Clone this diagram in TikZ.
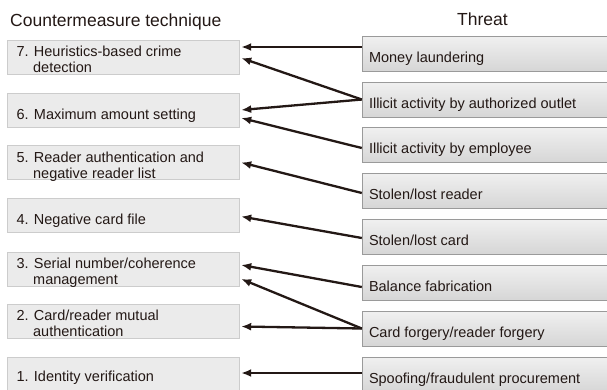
\documentclass[tikz,border=0pt]{standalone}
\usepackage{fontspec}
\setmainfont{Liberation Sans}
\usetikzlibrary{arrows.meta}
\definecolor{inkline}{HTML}{231815}
\definecolor{cmfill}{HTML}{EBEBEB}
\definecolor{cmedge}{HTML}{CCCCCC}
\definecolor{thtop}{HTML}{F0F0F0}
\definecolor{thbot}{HTML}{D6D6D6}
\definecolor{thedge}{HTML}{9A9A9A}

\begin{document}
\begin{tikzpicture}[x=1pt,y=-1pt,>={Latex[length=10pt,width=8pt]}]
\tikzset{cmbox/.style={draw=cmedge,fill=cmfill,minimum width=232pt,minimum height=34pt,inner sep=0pt},
thbox/.style={draw=thedge,top color=thtop,bottom color=thbot,minimum width=250pt,minimum height=35pt,inner sep=0pt},
boxtext/.style={anchor=base west,inner sep=0pt,align=left,text=inkline,font=\fontsize{14.5}{16}\selectfont},
headtext/.style={inner sep=0pt,text=inkline,font=\fontsize{17.5}{20}\selectfont},
link/.style={->,line width=2.3pt,color=inkline}}
\useasboundingbox (0,0) rectangle (607,389);
\node[headtext,anchor=base west] (cmhead) at (10,26) {Countermeasure technique};
\node[headtext,anchor=base] (thhead) at (482.5,25) {Threat};
\foreach \n/\y/\ty/\txt in {7/57/-15/{7. Heuristics-based crime\\\hspace*{1.15em}detection},
6/110/-9/{6. Maximum amount setting},
5/162.5/-15.5/{5. Reader authentication and\\\hspace*{1.15em}negative reader list},
4/215/-9/{4. Negative card file},
3/269/-15/{3. Serial number/coherence\\\hspace*{1.15em}management},
2/321/-15/{2. Card/reader mutual\\\hspace*{1.15em}authentication},
1/374/-7/{1. Identity verification}}
{
\node[cmbox] (cm\n) at (123,\y) {};
\node[boxtext] (cmtext\n) at ([xshift=9.5pt,yshift=\ty pt]cm\n.west) {\txt};
}
\foreach \n/\y/\txt in {money/53.5/{Money laundering},
outlet/99.5/{Illicit activity by authorized outlet},
employee/145/{Illicit activity by employee},
reader/190.5/{Stolen/lost reader},
card/236.5/{Stolen/lost card},
balance/282.5/{Balance fabrication},
forgery/328.5/{Card forgery/reader forgery},
spoof/374.5/{Spoofing/fraudulent procurement}}
{
\node[thbox] (th\n) at (487,\y) {};
\node[boxtext] (thtext\n) at ([xshift=7pt,yshift=-8.5pt]th\n.west) {\txt};
}
\foreach \a/\sa/\b/\sb in {thmoney/6.5/cm7/10, thoutlet/0/cm7/-1, thoutlet/0/cm6/0,
themployee/-3/cm6/-8, threader/-2.5/cm5/0, thcard/-1.5/cm4/-1.5,
thbalance/-4.5/cm3/4, thforgery/0/cm3/-10, thforgery/0/cm2/-5.5, thspoof/1.5/cm1/1}
\draw[link] ([yshift=\sa pt]\a.west) -- ([xshift=2pt,yshift=\sb pt]\b.east);
\end{tikzpicture}
\end{document}
